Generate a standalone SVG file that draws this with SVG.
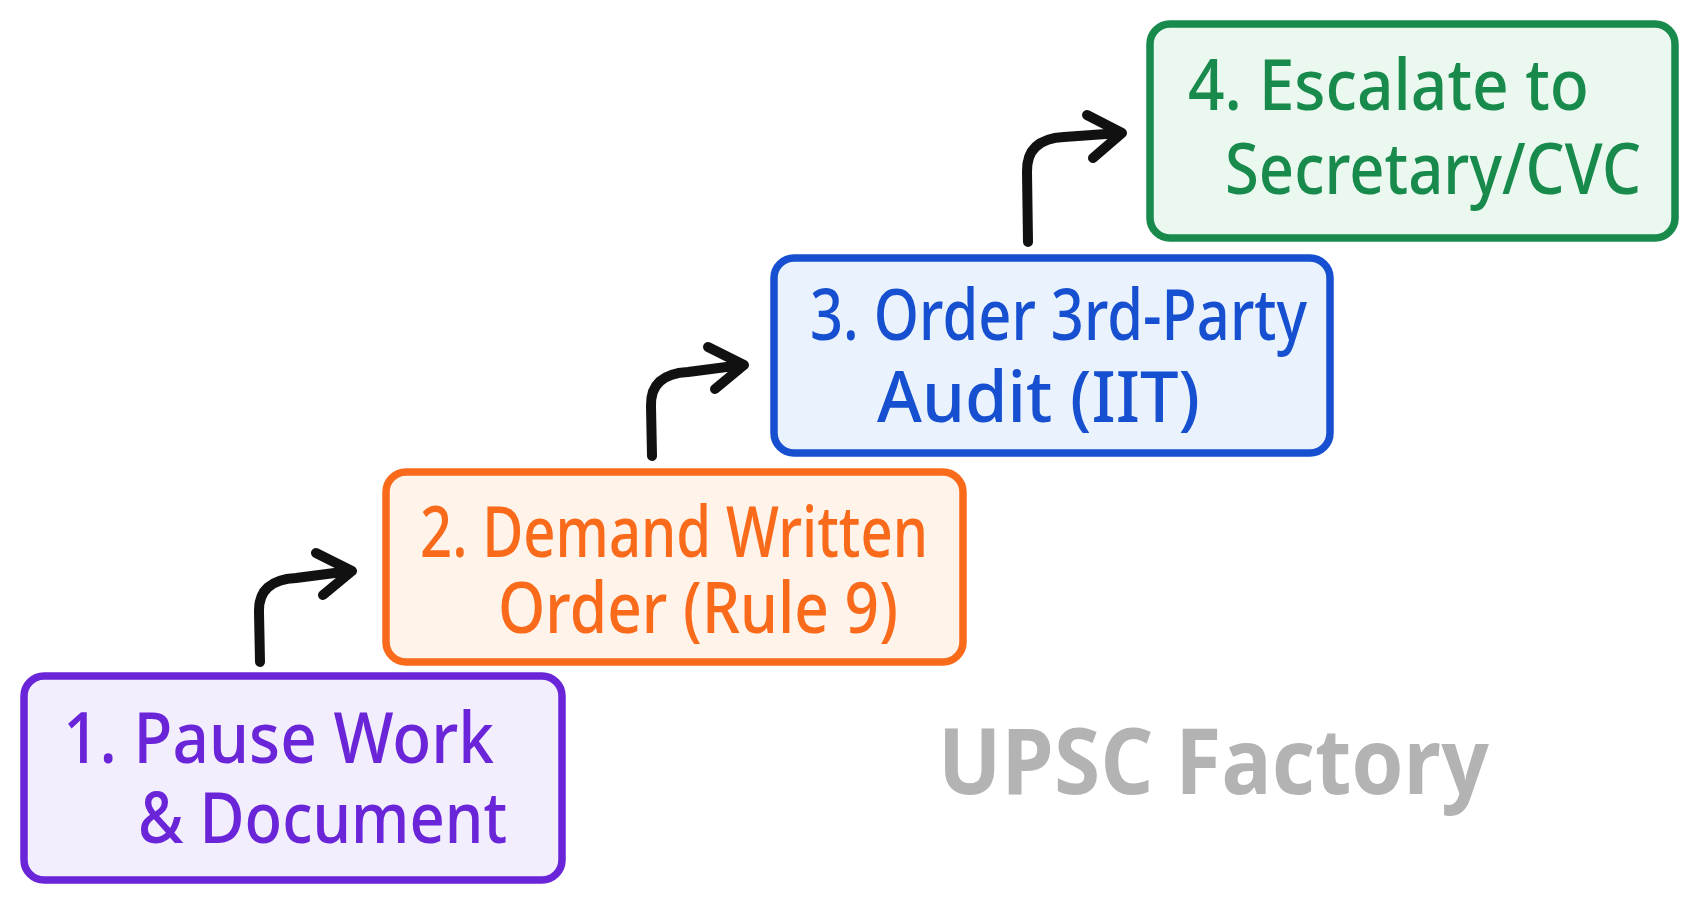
<svg xmlns="http://www.w3.org/2000/svg" width="1693" height="905" viewBox="0 0 1693 905">
<style>
.box{stroke-width:7.5;}
.t{font-family:"Noto Sans","Open Sans",sans-serif;font-size:70px;font-weight:500;}
.arr{fill:none;stroke:#111;stroke-width:10;stroke-linecap:round;stroke-linejoin:round;}
.wm{font-family:"Open Sans","Noto Sans",sans-serif;font-size:92px;font-weight:700;fill:#b3b3b3;}
</style>
<rect width="1693" height="905" fill="#ffffff"/>
<g id="connectors">
<path class="arr" d="M260,662 L259,612 Q258,580 296,578 L350,571 M316,553 L352,571 L323,595"/>
<path class="arr" d="M652,456 L651,406 Q650,374 688,372 L742,365 M708,347 L744,365 L715,389"/>
<path class="arr" d="M1028,242 L1027,172 Q1026,139 1064,137 L1120,133 M1087,115 L1122,133 L1093,158"/>
</g>
<g id="node1">
<rect class="box" x="24" y="676" width="538" height="204" rx="20" fill="#f3eefe" stroke="#6b25d8"/>
<text class="t" fill="#6b25d8" x="63" y="763" textLength="431" lengthAdjust="spacingAndGlyphs">1. Pause Work</text>
<text class="t" fill="#6b25d8" x="138" y="843" textLength="369" lengthAdjust="spacingAndGlyphs">&amp; Document</text>
</g>
<g id="node2">
<rect class="box" x="386" y="472" width="577" height="190" rx="20" fill="#fff3ea" stroke="#f96a1b"/>
<text class="t" fill="#f96a1b" x="420" y="557" textLength="508" lengthAdjust="spacingAndGlyphs">2. Demand Written</text>
<text class="t" fill="#f96a1b" x="498" y="633" textLength="400" lengthAdjust="spacingAndGlyphs">Order (Rule 9)</text>
</g>
<g id="node3">
<rect class="box" x="774" y="258" width="556" height="195" rx="20" fill="#eaf3fd" stroke="#1650d0"/>
<text class="t" fill="#1650d0" x="810" y="340" textLength="497" lengthAdjust="spacingAndGlyphs">3. Order 3rd-Party</text>
<text class="t" fill="#1650d0" x="877" y="422" textLength="323" lengthAdjust="spacingAndGlyphs">Audit (IIT)</text>
</g>
<g id="node4">
<rect class="box" x="1150" y="24" width="525" height="214" rx="20" fill="#eaf8ef" stroke="#178a4c"/>
<text class="t" fill="#178a4c" x="1188" y="110" textLength="401" lengthAdjust="spacingAndGlyphs">4. Escalate to</text>
<text class="t" fill="#178a4c" x="1225" y="194" textLength="416" lengthAdjust="spacingAndGlyphs">Secretary/CVC</text>
</g>
<text class="wm" x="938" y="794" textLength="551" lengthAdjust="spacingAndGlyphs">UPSC Factory</text>
</svg>
